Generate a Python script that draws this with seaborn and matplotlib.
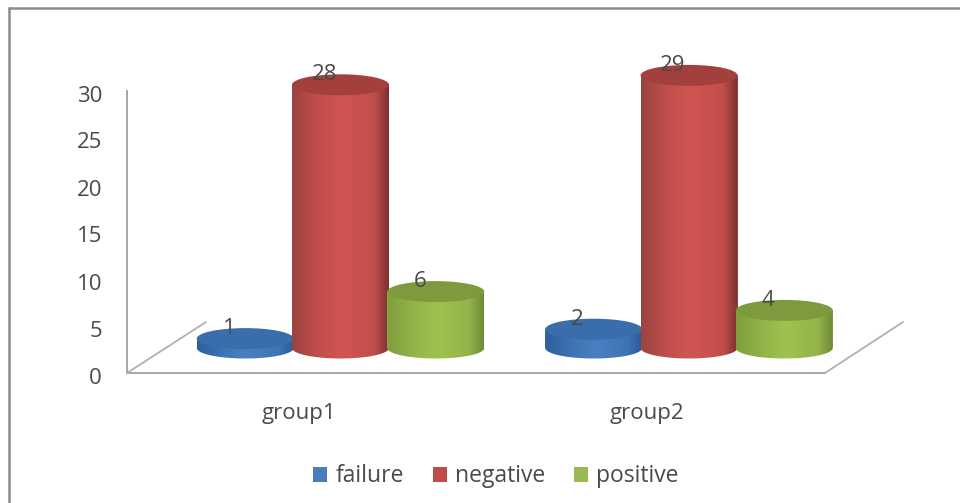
import numpy as np
import pandas as pd
import matplotlib
matplotlib.use("Agg")
import matplotlib.pyplot as plt
from matplotlib.colors import LinearSegmentedColormap
from matplotlib.patches import Ellipse, PathPatch
from matplotlib.path import Path
from matplotlib.transforms import ScaledTranslation
import seaborn as sns

groups = ["group1", "group2"]
outcomes = ["failure", "negative", "positive"]
failure = [1, 2]
negative = [28, 29]
positive = [6, 4]

legend_colors = {"failure": "#4a7ebb", "negative": "#be4b48", "positive": "#98b954"}
# edge, mid, highlight, right edge, cap
shades = {
    "failure": ["#2f5f9c", "#3f74b4", "#4a80c2", "#2c5a96", "#3a6dab"],
    "negative": ["#9c4340", "#c24f4c", "#cf5552", "#7c312f", "#a33f3c"],
    "positive": ["#7f9e3d", "#92b449", "#9fc24f", "#6f8a36", "#7d9b3d"],
}

W, H = 960, 503
AX_L, AX_R, AX_B, AX_T = 127, 825, 373, 40   # axes box, pixels from top-left
PX_PER_UNIT = 9.4
BASE_PX = 348                                # pixel row of the value 0 on the bars
GROUP_PX = 348.5
FIRST_GROUP_PX = 340.5
BAR_WIDE = 97 / GROUP_PX
CAP_HALF = 10.5 / PX_PER_UNIT                # cap half height in data units

sns.set_theme(style="white")
plt.rcParams["font.family"] = ["Open Sans", "DejaVu Sans"]
TEXT = "#4a4a4a"

fig = plt.figure(figsize=(W / 100, H / 100), dpi=100, facecolor="white")
ax = fig.add_axes([AX_L / W, 1 - AX_B / H, (AX_R - AX_L) / W, (AX_B - AX_T) / H])
ax.patch.set_alpha(0)

df = pd.DataFrame({
    "group": groups * 3,
    "outcome": np.repeat(outcomes, 2),
    "count": failure + negative + positive,
})
sns.barplot(data=df, x="group", y="count", hue="outcome", hue_order=outcomes,
            palette=legend_colors, saturation=1, width=0.82, gap=0, ax=ax, linewidth=0,
            errorbar=None)

# Shade each bar as a cylinder: gradient body, rounded foot and an elliptical cap.
for order, (outcome, container) in enumerate(zip(outcomes, ax.containers)):
    edge, mid, high, right, cap = shades[outcome]
    cmap = LinearSegmentedColormap.from_list(
        outcome, [(0, edge), (0.28, mid), (0.52, high), (0.85, mid), (1, right)])
    z = 2 + order
    for bar, value in zip(container.patches, container.datavalues):
        cx = bar.get_x() + bar.get_width() / 2
        bar.set_x(cx - BAR_WIDE / 2)
        bar.set_width(BAR_WIDE)
        bar.set_zorder(z)
        bar.set_clip_on(False)
        left, rt = cx - BAR_WIDE / 2, cx + BAR_WIDE / 2

        theta = np.linspace(np.pi, 2 * np.pi, 40)
        foot = np.column_stack([cx + BAR_WIDE / 2 * np.cos(theta),
                                CAP_HALF * np.sin(theta)])
        outline = np.vstack([[left, value], foot, [rt, value], [left, value]])
        body = PathPatch(Path(outline), fc="none", ec="none", zorder=z, clip_on=False)
        ax.add_patch(body)
        img = ax.imshow(np.linspace(0, 1, 128)[None, :], cmap=cmap, aspect="auto",
                        extent=(left, rt, -CAP_HALF, value), zorder=z,
                        interpolation="bilinear")
        img.set_clip_box(fig.bbox)
        img.set_clip_path(body)
        ax.add_patch(Ellipse((cx, value), BAR_WIDE, 2 * CAP_HALF, fc=cap, ec="none",
                             zorder=z + 0.1, clip_on=False))
        ax.annotate(f"{value:g}", (cx, value), xytext=(-16, 10), textcoords="offset pixels",
                    ha="center", va="center", fontsize=16, color=TEXT, zorder=10,
                    annotation_clip=False)

ax.set_xlim((AX_L - FIRST_GROUP_PX) / GROUP_PX, (AX_R - FIRST_GROUP_PX) / GROUP_PX)
ax.set_ylim((BASE_PX - AX_B) / PX_PER_UNIT, (BASE_PX - AX_T) / PX_PER_UNIT)
ax.set_xlabel("")
ax.set_ylabel("")

# Axis scales sit on the front of the floor, offset from the bars by the depth.
floor_drop = (372.5 - BASE_PX) / PX_PER_UNIT
y_sec = ax.secondary_yaxis("left", functions=(lambda v: v + floor_drop, lambda v: v - floor_drop))
y_sec.set_yticks(range(0, 31, 5))
y_sec.tick_params(axis="y", length=0, pad=18, labelsize=16, labelcolor=TEXT)
y_sec.spines["left"].set_bounds(0, 30)
y_sec.spines["left"].set_color("#a6a6a6")
y_sec.spines["left"].set_linewidth(1.4)
for tick_text in y_sec.get_yticklabels():
    tick_text.set_transform(tick_text.get_transform()
                            + ScaledTranslation(0, -3 / 100, fig.dpi_scale_trans))

x_shift = (FIRST_GROUP_PX - 298.5) / GROUP_PX
x_sec = ax.secondary_xaxis("bottom", functions=(lambda v: v + x_shift, lambda v: v - x_shift))
x_sec.set_xticks(range(len(groups)), labels=groups)
x_sec.tick_params(axis="x", length=0, pad=21.5, labelsize=16, labelcolor=TEXT)
x_sec.spines["bottom"].set_visible(False)

ax.set_xticks([])
ax.set_yticks([])
for side in ("top", "left", "right"):
    ax.spines[side].set_visible(False)
ax.spines["bottom"].set_color("#a6a6a6")
ax.spines["bottom"].set_linewidth(1.4)

# Floor depth edges and the outer chart frame, in figure pixels.
to_fig = lambda px, py: (px / W, 1 - py / H)
for (x0, y0), (x1, y1) in [((127, 373), (206, 322)), ((825, 373), (903, 322))]:
    p0, p1 = to_fig(x0, y0), to_fig(x1, y1)
    fig.add_artist(plt.Line2D([p0[0], p1[0]], [p0[1], p1[1]], color="#b0b0b0", lw=1.3))
for (x0, y0), (x1, y1) in [((8.5, 8), (960, 8)), ((8.5, 8), (8.5, 503))]:
    p0, p1 = to_fig(x0, y0), to_fig(x1, y1)
    fig.add_artist(plt.Line2D([p0[0], p1[0]], [p0[1], p1[1]], color="#8c8c8c", lw=1.8))

handles, labels = ax.get_legend_handles_labels()
ax.get_legend().remove()
fig.legend(handles, labels, loc="center", bbox_to_anchor=(496 / W, 1 - 476.5 / H), ncol=3,
           frameon=False, fontsize=16.5, labelcolor=TEXT, handlelength=0.62, handleheight=0.62,
           handletextpad=0.36, columnspacing=1.25)

fig.savefig("out.png", dpi=100)
